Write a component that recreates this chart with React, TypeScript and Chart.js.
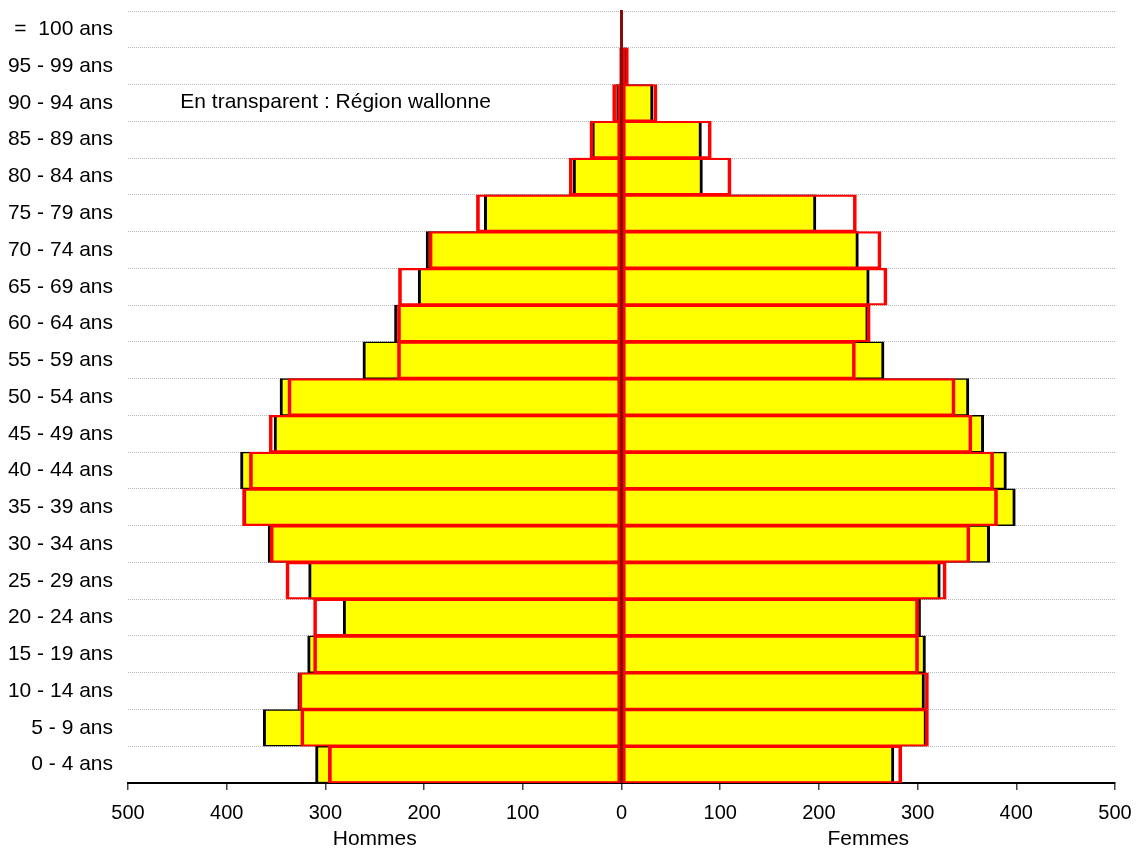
import React, { useEffect, useRef } from "react";
import { Chart, registerables } from "chart.js";

Chart.register(...registerables);

// Age groups, from bottom (0 - 4) to top (100+)
const ageLabels = [
  "0 - 4 ans", "5 - 9 ans", "10 - 14 ans", "15 - 19 ans", "20 - 24 ans",
  "25 - 29 ans", "30 - 34 ans", "35 - 39 ans", "40 - 44 ans", "45 - 49 ans",
  "50 - 54 ans", "55 - 59 ans", "60 - 64 ans", "65 - 69 ans", "70 - 74 ans",
  "75 - 79 ans", "80 - 84 ans", "85 - 89 ans", "90 - 94 ans", "95 - 99 ans",
  "=  100 ans",
];

// Commune (yellow bars)
const menCommune = [310, 363, 328, 318, 282, 317, 358, 383, 386, 352, 346, 262, 230, 206, 198, 139, 49, 30, 5, 1, 0];
const womenCommune = [276, 309, 307, 308, 303, 323, 373, 399, 390, 367, 352, 266, 250, 251, 240, 197, 82, 81, 32, 5, 0];

// Région wallonne (transparent, red outline)
const menRegion = [297, 325, 327, 312, 312, 340, 356, 384, 377, 357, 338, 227, 227, 226, 195, 147, 53, 32, 9, 2, 0];
const womenRegion = [284, 311, 311, 301, 301, 329, 353, 381, 377, 355, 338, 237, 252, 269, 263, 238, 111, 91, 36, 7, 0];

const xMin = -500;
const xMax = 500;
const xStep = 100;
const sideTitles = ["Hommes", "Femmes"];
const sideTitleValues = [-250, 250];
const noteText = "En transparent : Région wallonne";
const noteX = -447;
const noteCategory = "90 - 94 ans";

const FONT = '"Liberation Sans", Arial, Helvetica, sans-serif';

export default function App() {
  const canvasRef = useRef<HTMLCanvasElement | null>(null);

  useEffect(() => {
    if (!canvasRef.current) return;

    const centerLine = {
      id: "centerLine",
      afterDatasetsDraw(chart: any) {
        const { ctx, chartArea, scales } = chart;
        const x = scales.x.getPixelForValue(0);
        ctx.save();
        ctx.strokeStyle = "#8b0a0a";
        ctx.lineWidth = 3;
        ctx.beginPath();
        ctx.moveTo(x, chartArea.top - 1);
        ctx.lineTo(x, chartArea.bottom);
        ctx.stroke();
        ctx.restore();
      },
    };

    const note = {
      id: "note",
      afterDraw(chart: any) {
        const { ctx, scales } = chart;
        const x = scales.x.getPixelForValue(noteX);
        const y = scales.y.getPixelForValue(ageLabels.indexOf(noteCategory));
        ctx.save();
        ctx.fillStyle = "#000";
        ctx.font = `21px ${FONT}`;
        ctx.textAlign = "left";
        ctx.textBaseline = "middle";
        ctx.fillText(noteText, x, y - 1);
        ctx.restore();
      },
    };

    const sideBorder = { top: 1.5, bottom: 1.5, left: 3, right: 3 };
    const common = {
      grouped: false,
      barPercentage: 1,
      categoryPercentage: 1,
      borderSkipped: false as const,
      borderWidth: sideBorder,
      xAxisID: "x",
      yAxisID: "y",
    };

    const noHPad = (scale: any) => {
      scale.paddingLeft = 0;
      scale.paddingRight = 0;
    };

    const chart = new Chart(canvasRef.current, {
      type: "bar",
      data: {
        labels: ageLabels,
        datasets: [
          {
            ...common,
            label: "Région wallonne - Hommes",
            data: menRegion.map((v) => -v),
            backgroundColor: "rgba(0,0,0,0)",
            borderColor: "#ff0000",
          },
          {
            ...common,
            label: "Région wallonne - Femmes",
            data: womenRegion,
            backgroundColor: "rgba(0,0,0,0)",
            borderColor: "#ff0000",
          },
          {
            ...common,
            label: "Hommes",
            data: menCommune.map((v) => -v),
            backgroundColor: "#ffff00",
            borderColor: "#000000",
          },
          {
            ...common,
            label: "Femmes",
            data: womenCommune,
            backgroundColor: "#ffff00",
            borderColor: "#000000",
          },
        ] as any,
      },
      plugins: [centerLine, note],
      options: {
        animation: false,
        responsive: true,
        maintainAspectRatio: false,
        indexAxis: "y",
        layout: { padding: { top: 11, right: 22, left: 0, bottom: 0 } },
        plugins: {
          legend: { display: false },
          tooltip: { enabled: false },
        },
        scales: {
          y: {
            type: "category",
            reverse: true,
            position: "left",
            afterFit: (scale: any) => {
              scale.width = 128;
              scale.paddingTop = 0;
              scale.paddingBottom = 0;
            },
            grid: {
              display: true,
              offset: true,
              drawTicks: false,
              color: "#b8b8b8",
              lineWidth: 1,
            },
            border: { display: false, dash: [1, 1] },
            ticks: {
              color: "#000",
              font: { family: FONT, size: 21 },
              padding: 15,
              autoSkip: false,
            },
          },
          x: {
            type: "linear",
            position: "bottom",
            weight: 0,
            min: xMin,
            max: xMax,
            afterFit: (scale: any) => {
              scale.height = 40;
              noHPad(scale);
            },
            grid: {
              display: true,
              drawOnChartArea: false,
              drawTicks: true,
              tickLength: 7,
              color: "#444",
              lineWidth: 1.5,
            },
            border: { display: true, color: "#000", width: 2 },
            ticks: {
              stepSize: xStep,
              color: "#000",
              font: { family: FONT, size: 20 },
              padding: 11,
              maxRotation: 0,
              autoSkip: false,
              callback: (v: any) => String(Math.abs(Number(v))),
            },
          },
          x2: {
            type: "linear",
            position: "bottom",
            weight: 1,
            min: xMin,
            max: xMax,
            afterFit: (scale: any) => {
              scale.height = 26;
              noHPad(scale);
            },
            afterBuildTicks: (scale: any) => {
              scale.ticks = sideTitleValues.map((value) => ({ value }));
            },
            grid: { display: false, drawTicks: false },
            border: { display: false },
            ticks: {
              color: "#000",
              font: { family: FONT, size: 21 },
              padding: 4,
              maxRotation: 0,
              autoSkip: false,
              callback: (v: any) => (Number(v) < 0 ? sideTitles[0] : sideTitles[1]),
            },
          },
        },
      } as any,
    });

    return () => chart.destroy();
  }, []);

  return (
    <div
      style={{
        position: "fixed",
        left: 0,
        top: 0,
        width: "1137px",
        height: "849px",
        background: "#fff",
      }}
    >
      <canvas ref={canvasRef} />
    </div>
  );
}
